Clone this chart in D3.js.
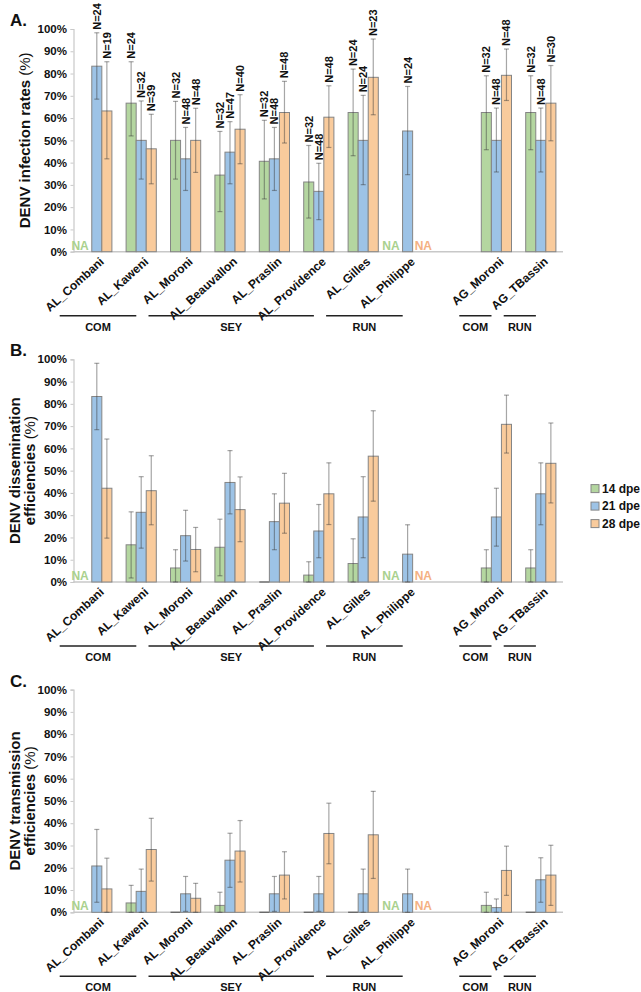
<!DOCTYPE html>
<html>
<head>
<meta charset="utf-8">
<script src="https://cdnjs.cloudflare.com/ajax/libs/d3/7.8.5/d3.min.js"></script>
<style>
body{margin:0;background:#fff;}
text{font-family:Arial,"Liberation Sans",sans-serif;font-weight:bold;fill:#111;}
</style>
</head>
<body>
<div id="plot"></div>
<script>
//sites on the x axis, one empty slot is left between AL_Philippe and AG_Moroni
var sites = ['AL_Combani','AL_Kaweni','AL_Moroni','AL_Beauvallon','AL_Praslin','AL_Providence','AL_Gilles','AL_Philippe','AG_Moroni','AG_TBassin'];
var series = ['14 dpe','21 dpe','28 dpe'];
var yTicks = [0,10,20,30,40,50,60,70,80,90,100];
var regions = [
	{name:'COM', from:'AL_Combani', to:'AL_Kaweni'},
	{name:'SEY', from:'AL_Moroni', to:'AL_Providence'},
	{name:'RUN', from:'AL_Gilles', to:'AL_Philippe'},
	{name:'COM', from:'AG_Moroni', to:'AG_Moroni'},
	{name:'RUN', from:'AG_TBassin', to:'AG_TBassin'}
];

//A. infection rates (%), null = NA
var infect14   = [null, 66.7, 50.0, 34.4, 40.6, 31.3, 62.5, null, 62.5, 62.5];
var infect14Lo = [null, 52.0, 32.6, 18.0, 23.7, 15.1, 43.1, null, 45.8, 45.8];
var infect14Hi = [null, 85.3, 67.5, 54.0, 59.0, 47.7, 82.0, null, 79.0, 79.0];
var infect21   = [83.3, 50.0, 41.7, 44.7, 41.7, 27.1, 50.0, 54.2, 50.0, 50.0];
var infect21Lo = [68.5, 32.6, 27.5, 30.5, 27.5, 14.4, 30.1, 34.6, 35.8, 35.8];
var infect21Hi = [98.3, 67.7, 55.8, 58.4, 55.8, 39.7, 70.2, 74.2, 64.5, 64.5];
var infect28   = [63.2, 46.2, 50.0, 55.0, 62.5, 60.4, 78.3, null, 79.2, 66.7];
var infect28Lo = [41.7, 30.5, 35.6, 39.5, 48.8, 46.8, 61.5, null, 67.9, 49.8];
var infect28Hi = [85.3, 61.7, 64.4, 70.5, 76.5, 74.5, 95.5, null, 91.0, 83.6];
var n14 = [null, 24, 32, 32, 32, 32, 24, null, 32, 32];
var n21 = [24, 32, 48, 47, 48, 48, 24, 24, 48, 48];
var n28 = [19, 39, 48, 40, 48, 48, 23, null, 48, 30];

//B. dissemination efficiencies (%)
var dissem14   = [null, 16.7, 6.3, 15.6, 0, 3.1, 8.3, null, 6.3, 6.3];
var dissem14Lo = [null, 1.8, 0, 2.8, 0, 0, 0, null, 0, 0];
var dissem14Hi = [null, 31.5, 14.5, 28.2, 0, 9.1, 19.4, null, 14.5, 14.5];
var dissem21   = [83.3, 31.3, 20.8, 44.7, 27.1, 22.9, 29.2, 12.5, 29.2, 39.6];
var dissem21Lo = [68.4, 15.2, 9.4, 30.6, 14.5, 10.9, 10.9, 0, 16.1, 25.7];
var dissem21Hi = [98.2, 47.3, 32.2, 59.0, 39.6, 34.8, 47.3, 25.7, 42.1, 53.5];
var dissem28   = [42.1, 41.0, 14.6, 32.5, 35.4, 39.6, 56.5, null, 70.8, 53.3];
var dissem28Lo = [19.7, 25.7, 4.6, 18.1, 21.9, 25.8, 36.3, null, 57.9, 35.5];
var dissem28Hi = [64.2, 56.7, 24.5, 47.2, 48.8, 53.5, 76.9, null, 83.9, 71.4];

//C. transmission efficiencies (%)
var trans14   = [null, 4.2, 0, 3.1, 0, 0, 0, null, 3.1, 0];
var trans14Lo = [null, 0, 0, 0, 0, 0, 0, null, 0, 0];
var trans14Hi = [null, 12.1, 0, 9.0, 0, 0, 0, null, 9.0, 0];
var trans21   = [20.8, 9.4, 8.3, 23.4, 8.3, 8.3, 8.3, 8.3, 2.1, 14.6];
var trans21Lo = [4.5, 0, 0.4, 11.2, 0.4, 0.4, 0, 0, 0, 4.5];
var trans21Hi = [37.2, 19.4, 16.1, 35.5, 16.1, 16.1, 19.4, 19.4, 6.0, 24.5];
var trans28   = [10.5, 28.2, 6.3, 27.5, 16.7, 35.4, 34.8, null, 18.8, 16.7];
var trans28Lo = [0, 14.0, 0, 13.6, 6.0, 21.8, 15.2, null, 7.6, 3.1];
var trans28Hi = [24.3, 42.2, 13.0, 41.2, 27.2, 49.0, 54.3, null, 29.7, 30.1];

var colors = ['#b4d6a0','#9dc3e6','#f9cb9c'];
var naColors = ['#a9d18e','#9dc3e6','#f4b183'];

var panels = [
	{letter:'A.', title:['DENV infection rates'], v:[infect14,infect21,infect28], lo:[infect14Lo,infect21Lo,infect28Lo], hi:[infect14Hi,infect21Hi,infect28Hi], n:[n14,n21,n28]},
	{letter:'B.', title:['DENV dissemination','efficiencies'], v:[dissem14,dissem21,dissem28], lo:[dissem14Lo,dissem21Lo,dissem28Lo], hi:[dissem14Hi,dissem21Hi,dissem28Hi], n:null},
	{letter:'C.', title:['DENV transmission','efficiencies'], v:[trans14,trans21,trans28], lo:[trans14Lo,trans21Lo,trans28Lo], hi:[trans14Hi,trans21Hi,trans28Hi], n:null}
];

var width = 641, height = 992;
var svg = d3.select('#plot')
	.append('svg')
	.attr('width',width)
	.attr('height',height);

var slots = sites.slice(0,8).concat([' '], sites.slice(8));
var x = d3.scaleBand().domain(slots).range([74.6,563]).paddingInner(0.32).paddingOuter(0.16);
var xs = d3.scaleBand().domain(series).range([0,x.bandwidth()]);
var bw = xs.bandwidth();
var plotH = 222.7;

panels.forEach(function(p,pi){
	var top = 29 + pi*330.3;
	var y0 = top + plotH;
	var y = d3.scaleLinear().domain([0,100]).range([y0,top]);
	var g = svg.append('g');

	//axis
	var ax = g.append('g')
		.attr('transform','translate(73.5,0)')
		.call(d3.axisLeft(y).tickValues(yTicks).tickFormat(function(d){return d+'%';}).tickSize(3).tickPadding(3.5));
	ax.select('.domain').attr('stroke','#c8c8c8').attr('stroke-width',1.2);
	ax.selectAll('.tick line').attr('stroke','#c8c8c8');
	ax.selectAll('.tick text').style('font-size','11.5px').attr('fill','#111');

	g.append('line')
		.attr('x1',73.5).attr('x2',563)
		.attr('y1',y0).attr('y2',y0)
		.style('stroke','#c8c8c8').style('stroke-width','1.5px');

	//panel letter
	g.append('text').attr('x',10).attr('y',top-3).text(p.letter).style('font-size','17px');

	//y title
	var cy = y0 - plotH/2;
	var lines = p.title.length;
	p.title.forEach(function(t,li){
		var bx = lines==1 ? 30 : 20 + li*15;
		var tt = g.append('text')
			.attr('transform','translate('+bx+','+cy+') rotate(-90)')
			.attr('text-anchor','middle')
			.style('font-size','15px');
		tt.append('tspan').text(t);
		if(li==lines-1){
			tt.append('tspan').text(' (%)').style('font-weight','normal');
		}
	});

	//bars
	series.forEach(function(s,si){
		sites.forEach(function(site,i){
			var v = p.v[si][i];
			var bx = x(site) + xs(s);
			if(v===null){
				g.append('text')
					.attr('x', si==0 ? bx+bw-3 : bx+2)
					.attr('y', y0-2)
					.attr('text-anchor', si==0 ? 'end' : 'start')
					.style('font-size','12px')
					.style('fill',naColors[si])
					.text('NA');
				return;
			}
			if(v>0){
				g.append('rect')
					.attr('x',bx).attr('y',y(v))
					.attr('width',bw).attr('height',y0-y(v))
					.style('fill',colors[si])
					.style('stroke','#858585')
					.style('stroke-width','1px');
			} else {
				g.append('line')
					.attr('x1',bx).attr('x2',bx+bw)
					.attr('y1',y0).attr('y2',y0)
					.style('stroke','#666').style('stroke-width','1.3px');
			}
			var lo = p.lo[si][i], hi = p.hi[si][i];
			var cx = bx + bw/2;
			if(hi>lo){
				var eb = g.append('g')
					.style('stroke','#3a3a3a')
					.style('stroke-opacity',0.45)
					.style('stroke-width','1.2px');
				eb.append('line').attr('x1',cx).attr('x2',cx).attr('y1',y(lo)).attr('y2',y(hi));
				eb.append('line').attr('x1',cx-2.5).attr('x2',cx+2.5).attr('y1',y(hi)).attr('y2',y(hi));
				eb.append('line').attr('x1',cx-2.5).attr('x2',cx+2.5).attr('y1',y(lo)).attr('y2',y(lo));
			}
			if(p.n){
				g.append('text')
					.attr('transform','translate('+cx+','+(y(hi)-3)+') rotate(-90)')
					.attr('dy','0.36em')
					.style('font-size','11px')
					.text('N='+p.n[si][i]);
			}
		});
	});

	//site labels
	sites.forEach(function(site){
		var cx = x(site) + x.bandwidth()/2;
		g.append('text')
			.attr('transform','translate('+(cx+8)+','+(y0+11)+') rotate(-42)')
			.attr('text-anchor','end')
			.style('font-size','12px')
			.text(site);
	});

	//region brackets
	regions.forEach(function(r){
		var x1 = x(r.from) - 22, x2 = x(r.to) + x.bandwidth() - 20;
		g.append('line')
			.attr('x1',x1).attr('x2',x2)
			.attr('y1',y0+64).attr('y2',y0+64)
			.style('stroke','#222').style('stroke-width','1.5px');
		g.append('text')
			.attr('x',(x1+x2)/2).attr('y',y0+79)
			.attr('text-anchor','middle')
			.style('font-size','11px')
			.text(r.name);
	});

	//legend next to panel B
	if(pi==1){
		series.forEach(function(s,si){
			var ly = y0 - 93.4 + si*17.5;
			g.append('rect')
				.attr('x',591).attr('y',ly-4)
				.attr('width',8).attr('height',8)
				.style('fill',colors[si]).style('stroke','#858585');
			g.append('text')
				.attr('x',602).attr('y',ly+4.3)
				.style('font-size','12px')
				.text(s);
		});
	}
});
</script>
</body>
</html>
